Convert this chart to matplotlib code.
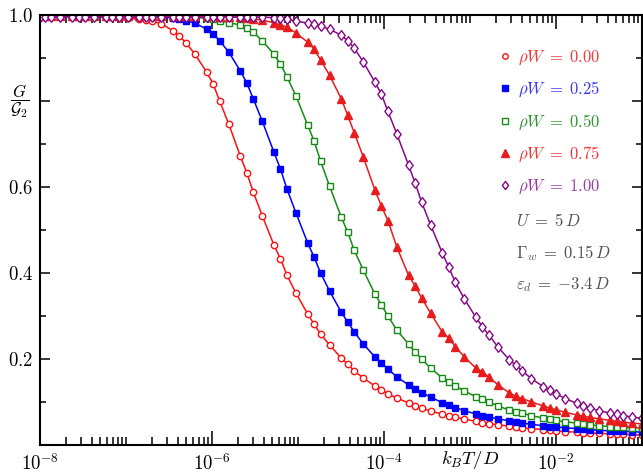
import numpy as np
import matplotlib
matplotlib.use('Agg')
import matplotlib.pyplot as plt
from matplotlib.ticker import FixedLocator, FixedFormatter, NullFormatter

plt.rcParams['mathtext.fontset'] = 'cm'
plt.rcParams['font.family'] = 'serif'

# temperature grid, log10(k_B T / D)
log_t = [-8.000, -7.943, -7.867, -7.763, -7.627, -7.552, -7.476, -7.372,
         -7.236, -7.160, -7.085, -6.980, -6.845, -6.769, -6.694, -6.589,
         -6.453, -6.378, -6.302, -6.198, -6.062, -5.987, -5.911, -5.806,
         -5.671, -5.595, -5.520, -5.415, -5.280, -5.204, -5.128, -5.024,
         -4.888, -4.813, -4.737, -4.633, -4.497, -4.422, -4.346, -4.241,
         -4.106, -4.030, -3.955, -3.850, -3.715, -3.639, -3.563, -3.459,
         -3.323, -3.248, -3.172, -3.067, -2.932, -2.856, -2.781, -2.676,
         -2.541, -2.465, -2.390, -2.285, -2.149, -2.074, -1.998, -1.894,
         -1.758, -1.683, -1.607, -1.502, -1.367, -1.291, -1.216, -1.111,
         -1.000]

g_w000 = [0.998] * 8 + [
    0.996, 0.995, 0.994, 0.993, 0.990, 0.988, 0.985, 0.980,
    0.963, 0.951, 0.935, 0.909, 0.867, 0.840, 0.800, 0.747,
    0.672, 0.633, 0.588, 0.533, 0.465, 0.433, 0.395, 0.353,
    0.305, 0.281, 0.258, 0.233, 0.202, 0.188, 0.172, 0.156,
    0.137, 0.128, 0.119, 0.109, 0.098, 0.091, 0.086, 0.079,
    0.072, 0.068, 0.065, 0.060, 0.055, 0.052, 0.050, 0.047,
    0.044, 0.042, 0.040, 0.038, 0.036, 0.034, 0.033, 0.031,
    0.030, 0.029, 0.028, 0.027, 0.026, 0.025, 0.025, 0.024,
    0.023]

g_w025 = [0.998] * 12 + [
    0.997, 0.997, 0.996, 0.995, 0.993, 0.990, 0.987, 0.981,
    0.967, 0.956, 0.940, 0.914, 0.870, 0.842, 0.805, 0.753,
    0.681, 0.642, 0.595, 0.540, 0.470, 0.437, 0.400, 0.358,
    0.309, 0.286, 0.263, 0.235, 0.205, 0.191, 0.177, 0.158,
    0.140, 0.130, 0.121, 0.112, 0.098, 0.092, 0.087, 0.080,
    0.072, 0.068, 0.065, 0.061, 0.056, 0.053, 0.051, 0.048,
    0.045, 0.043, 0.042, 0.040, 0.038, 0.037, 0.036, 0.034,
    0.033, 0.032, 0.032, 0.031, 0.030]

g_w050 = [0.998] * 16 + [
    0.997, 0.997, 0.996, 0.995, 0.992, 0.990, 0.987, 0.982,
    0.977, 0.970, 0.960, 0.940, 0.909, 0.886, 0.856, 0.812,
    0.744, 0.707, 0.660, 0.602, 0.530, 0.495, 0.453, 0.407,
    0.351, 0.326, 0.300, 0.267, 0.235, 0.216, 0.200, 0.179,
    0.156, 0.147, 0.137, 0.126, 0.112, 0.107, 0.100, 0.091,
    0.081, 0.077, 0.074, 0.068, 0.063, 0.060, 0.057, 0.054,
    0.051, 0.049, 0.047, 0.045, 0.043, 0.042, 0.041, 0.040,
    0.039]

g_w075 = [0.998] * 20 + [
    0.997, 0.997, 0.996, 0.996, 0.995, 0.993, 0.991, 0.988,
    0.982, 0.977, 0.972, 0.958, 0.937, 0.921, 0.895, 0.860,
    0.805, 0.767, 0.726, 0.670, 0.593, 0.556, 0.522, 0.460,
    0.395, 0.370, 0.342, 0.307, 0.263, 0.249, 0.229, 0.205,
    0.179, 0.170, 0.158, 0.140, 0.121, 0.113, 0.108, 0.100,
    0.091, 0.086, 0.082, 0.076, 0.070, 0.067, 0.064, 0.061,
    0.057, 0.055, 0.053, 0.051, 0.049]

g_w100 = [0.995] * 28 + [
    0.994, 0.993, 0.990, 0.986, 0.981, 0.978, 0.974, 0.967,
    0.953, 0.940, 0.923, 0.891, 0.844, 0.816, 0.776, 0.723,
    0.651, 0.610, 0.565, 0.512, 0.447, 0.414, 0.379, 0.340,
    0.297, 0.275, 0.256, 0.228, 0.198, 0.185, 0.172, 0.154,
    0.136, 0.127, 0.119, 0.108, 0.097, 0.091, 0.086, 0.080,
    0.074, 0.071, 0.068, 0.065, 0.062]

labels = [r'$\rho W\;=\;0.00$', r'$\rho W\;=\;0.25$', r'$\rho W\;=\;0.50$',
          r'$\rho W\;=\;0.75$', r'$\rho W\;=\;1.00$']
params = [r'$U\;=\;5\,D$', r'$\Gamma_w\;=\;0.15\,D$',
          r'$\varepsilon_d\;=\;{-}3.4\,D$']

x_major = [1e-8, 1e-6, 1e-4, 1e-2]
x_major_labels = [r'$10^{-8}$', r'$10^{-6}$', r'$10^{-4}$', r'$10^{-2}$']
y_major = [0.2, 0.4, 0.6, 0.8, 1.0]
y_major_labels = [r'$0.2$', r'$0.4$', r'$0.6$', '', r'$1.0$']

temps = 10.0 ** np.array(log_t)
curves = [g_w000, g_w025, g_w050, g_w075, g_w100]
styles = [
    dict(color='#ff1010', marker='o', mfc='white', ms=4.6),
    dict(color='#0000ff', marker='s', mfc='#0000ff', ms=5.0),
    dict(color='#178a17', marker='s', mfc='white', ms=4.6),
    dict(color='#e81c1c', marker='^', mfc='#e81c1c', ms=6.4),
    dict(color='#850a85', marker=[(0, -1), (0.75, 0), (0, 1), (-0.75, 0), (0, -1)],
         mfc='white', ms=7.0),
]
text_colors = ['#f03838', '#3a3af5', '#2f962f', '#f03838', '#9a3aa8']

fig = plt.figure(figsize=(6.43, 4.76), dpi=100)
ax = fig.add_axes([40 / 643, 31 / 476, 602 / 643, 430 / 476])

lines = []
for g, st in zip(curves, styles):
    ln, = ax.plot(temps, g, lw=1.1, mew=1.0, mec=st['color'], **st)
    lines.append(ln)

ax.set_xscale('log')
ax.set_xlim(1e-8, 1e-1)
ax.set_ylim(0, 1.0)

minor_x = [m * 10.0 ** e for e in range(-8, 0) for m in range(1, 10)]
ax.xaxis.set_major_locator(FixedLocator(x_major))
ax.xaxis.set_major_formatter(FixedFormatter(x_major_labels))
ax.xaxis.set_minor_locator(FixedLocator(minor_x))
ax.xaxis.set_minor_formatter(NullFormatter())
ax.yaxis.set_major_locator(FixedLocator(y_major))
ax.yaxis.set_major_formatter(FixedFormatter(y_major_labels))
ax.yaxis.set_minor_locator(FixedLocator([0.1, 0.3, 0.5, 0.7, 0.9]))

ax.tick_params(which='both', direction='in', top=True, right=True, width=1.1,
               labelsize=13.5)
ax.tick_params(axis='x', which='major', length=10, pad=6)
ax.tick_params(axis='x', which='minor', length=5.5)
ax.tick_params(axis='y', which='major', length=7, pad=5)
ax.tick_params(axis='y', which='minor', length=4.5)
for sp in ax.spines.values():
    sp.set_linewidth(1.5)

ax.text(-0.033, 0.8, r'$\dfrac{G}{\mathcal{G}_2}$', transform=ax.get_yaxis_transform(),
        ha='center', va='center', fontsize=12)
ax.text(0.714, -0.034, r'$k_BT/D$', transform=ax.transAxes,
        ha='center', va='center', fontsize=13.5)

leg = ax.legend(lines, labels, loc='upper left', bbox_to_anchor=(0.772, 0.922),
                frameon=False, handlelength=0, numpoints=1, handletextpad=0.8,
                labelspacing=0.78, fontsize=12, borderpad=0, borderaxespad=0,
                markerscale=0.85)
for txt, c in zip(leg.get_texts(), text_colors):
    txt.set_color(c)

for i, p in enumerate(params):
    ax.text(0.791, 0.519 - 0.073 * i, p, transform=ax.transAxes,
            ha='left', va='center', fontsize=12, color='#505050')

fig.savefig('out.png', dpi=100)
